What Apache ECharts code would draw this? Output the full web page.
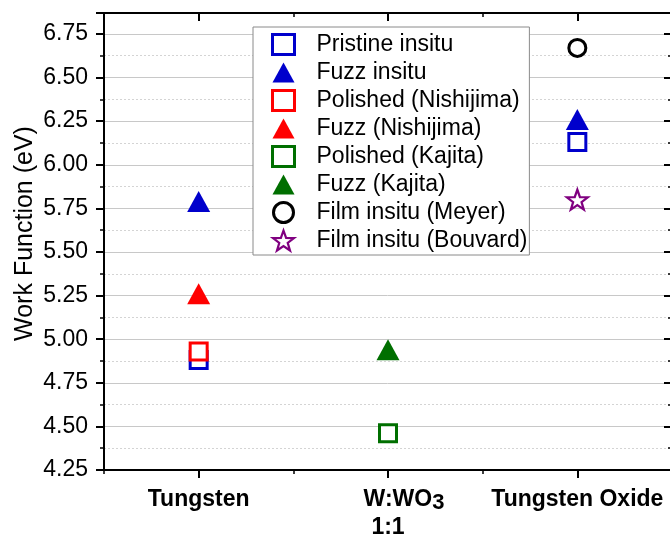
<!DOCTYPE html>
<html>
<head>
<meta charset="utf-8">
<script src="https://cdn.jsdelivr.net/npm/echarts@6/dist/echarts.min.js"></script>
<style>
  html, body { margin: 0; padding: 0; background: #fff; }
  #chart { width: 670px; height: 534px; }
</style>
</head>
<body>
<div id="chart"></div>
<script>
// Work function measurements by material (eV)
const categories = ['Tungsten', 'W:WO3', 'Tungsten Oxide'];

const pristineInsitu    = [4.88, null, 6.13];
const fuzzInsitu        = [5.79, null, 6.26];
const polishedNishijima = [4.93, null, null];
const fuzzNishijima     = [5.26, null, null];
const polishedKajita    = [null, 4.46, null];
const fuzzKajita        = [null, 4.94, null];
const filmMeyer         = [null, null, 6.67];
const filmBouvard       = [null, null, 5.80];

const yMin = 4.25;
const yMax = 6.87;
const yStep = 0.25;

const FONT = "'Liberation Sans', Arial, sans-serif";
const BLUE = '#0000cc';
const RED = '#ff0000';
const GREEN = '#006f00';
const PURPLE = '#800080';

const STAR = 'path://M50 0 L61.76 33.82 L97.55 34.55 L69.02 56.18 L79.39 90.45 L50 70 L20.61 90.45 L30.98 56.18 L2.45 34.55 L38.24 33.82 Z';

function toPoints(values) {
  const pts = [];
  values.forEach((v, i) => { if (v !== null) pts.push([i, v]); });
  return pts;
}

function hollow(name, values, symbol, size, color, bw) {
  return {
    name, type: 'scatter', xAxisIndex: 0, yAxisIndex: 1,
    symbol, symbolSize: size,
    itemStyle: { color: '#ffffff', borderColor: color, borderWidth: bw, opacity: 1 },
    emphasis: { disabled: true },
    data: toPoints(values)
  };
}
function filled(name, values, color) {
  return {
    name, type: 'scatter', xAxisIndex: 0, yAxisIndex: 1,
    symbol: 'triangle', symbolSize: [23, 21],
    itemStyle: { color, opacity: 1 },
    emphasis: { disabled: true },
    data: toPoints(values)
  };
}

const axisLine = { show: true, lineStyle: { color: '#000', width: 2 } };

const legendItems = [
  { name: 'Pristine insitu', itemStyle: { borderWidth: 3 } },
  { name: 'Fuzz insitu' },
  { name: 'Polished (Nishijima)', itemStyle: { borderWidth: 3 } },
  { name: 'Fuzz (Nishijima)' },
  { name: 'Polished (Kajita)', itemStyle: { borderWidth: 3 } },
  { name: 'Fuzz (Kajita)' },
  { name: 'Film insitu (Meyer)', itemStyle: { borderWidth: 3 } },
  { name: 'Film insitu (Bouvard)', itemStyle: { borderWidth: 2.2 } }
];

const chart = echarts.init(document.getElementById('chart'), null, { renderer: 'canvas' });
chart.setOption({
  animation: false,
  backgroundColor: '#fff',
  textStyle: { fontFamily: FONT },
  grid: { left: 104, right: -2, top: 13, bottom: 64, outerBoundsMode: 'none', containLabel: false },
  legend: {
    orient: 'vertical',
    left: 253, top: 27,
    padding: [6, 2, 3, 18],
    itemWidth: 22, itemHeight: 20, itemGap: 5,
    backgroundColor: '#fff',
    borderColor: '#8a8a8a', borderWidth: 1,
    selectedMode: false,
    textStyle: { fontFamily: FONT, fontSize: 23, color: '#000', lineHeight: 21, padding: [0, 0, 0, 17] },
    data: legendItems
  },
  xAxis: [
    {
      type: 'category', position: 'bottom', data: categories, boundaryGap: true,
      axisLine,
      axisTick: { show: true, alignWithLabel: true, length: 8, inside: false, lineStyle: { color: '#000', width: 2 } },
      axisLabel: {
        interval: 0, hideOverlap: false,
        margin: 16, color: '#000', fontFamily: FONT, fontSize: 23, fontWeight: 'bold',
        formatter: (v) => v === 'W:WO3' ? '{p|}{a|W:WO}{s|3}\n{a|1:1}' : '{a|' + v + '}',
        rich: {
          a: { fontFamily: FONT, fontSize: 23, fontWeight: 'bold', color: '#000', lineHeight: 28 },
          s: { fontFamily: FONT, fontSize: 22, fontWeight: 'bold', color: '#000', lineHeight: 14, verticalAlign: 'bottom', padding: [14, 0, 0, 0] },
          p: { width: 32 }
        }
      },
      splitLine: { show: false }
    },
    {
      type: 'category', position: 'bottom', data: categories, boundaryGap: true,
      axisLine: { show: false },
      axisTick: { show: true, alignWithLabel: false, length: 4, lineStyle: { color: '#000', width: 1.5 } },
      axisLabel: { show: false }, splitLine: { show: false }
    },
    {
      type: 'category', position: 'top', data: categories, boundaryGap: true,
      axisLine,
      axisTick: { show: true, alignWithLabel: true, length: 8, inside: true, lineStyle: { color: '#000', width: 2 } },
      axisLabel: { show: false }, splitLine: { show: false }
    },
    {
      type: 'category', position: 'top', data: categories, boundaryGap: true,
      axisLine: { show: false },
      axisTick: { show: true, alignWithLabel: false, length: 4, inside: true, lineStyle: { color: '#000', width: 1.5 } },
      axisLabel: { show: false }, splitLine: { show: false }
    }
  ],
  yAxis: [
    {
      // half-step gridlines and short ticks
      type: 'value', position: 'left', min: yMin, max: yMax, interval: yStep / 2,
      axisLine: { show: false },
      axisTick: { show: true, length: 4, lineStyle: { color: '#000', width: 1.5 } },
      axisLabel: { show: false },
      splitLine: { show: true, lineStyle: { color: '#d4d4d4', width: 1, type: [2, 2] } }
    },
    {
      type: 'value', position: 'left', min: yMin, max: yMax, interval: yStep,
      name: 'Work Function (eV)', nameLocation: 'middle', nameGap: 66, nameMoveOverlap: false,
      nameTextStyle: { fontFamily: FONT, fontSize: 25, color: '#000', padding: [0, 0, 0, 16] },
      axisLine,
      axisTick: { show: true, length: 8, lineStyle: { color: '#000', width: 2 } },
      axisLabel: {
        margin: 16, color: '#000', fontFamily: FONT, fontSize: 23,
        formatter: (v) => Math.abs(v / yStep - Math.round(v / yStep)) < 1e-6 ? v.toFixed(2) : ''
      },
      splitLine: { show: true, lineStyle: { color: '#c8c8c8', width: 1 } }
    },
    {
      type: 'value', position: 'right', min: yMin, max: yMax, interval: yStep / 2,
      axisLine: { show: false },
      axisTick: { show: true, inside: true, length: 4, lineStyle: { color: '#000', width: 1.5 } },
      axisLabel: { show: false }, splitLine: { show: false }
    },
    {
      type: 'value', position: 'right', min: yMin, max: yMax, interval: yStep,
      axisLine,
      axisTick: { show: true, inside: true, length: 8, lineStyle: { color: '#000', width: 2 } },
      axisLabel: { show: false }, splitLine: { show: false }
    }
  ],
  series: [
    hollow('Pristine insitu', pristineInsitu, 'rect', 17, BLUE, 3),
    filled('Fuzz insitu', fuzzInsitu, BLUE),
    hollow('Polished (Nishijima)', polishedNishijima, 'rect', 17, RED, 3),
    filled('Fuzz (Nishijima)', fuzzNishijima, RED),
    hollow('Polished (Kajita)', polishedKajita, 'rect', 17, GREEN, 3),
    filled('Fuzz (Kajita)', fuzzKajita, GREEN),
    hollow('Film insitu (Meyer)', filmMeyer, 'circle', 17, '#000', 3),
    hollow('Film insitu (Bouvard)', filmBouvard, STAR, [21, 20], PURPLE, 2.2)
  ]
});
</script>
</body>
</html>
